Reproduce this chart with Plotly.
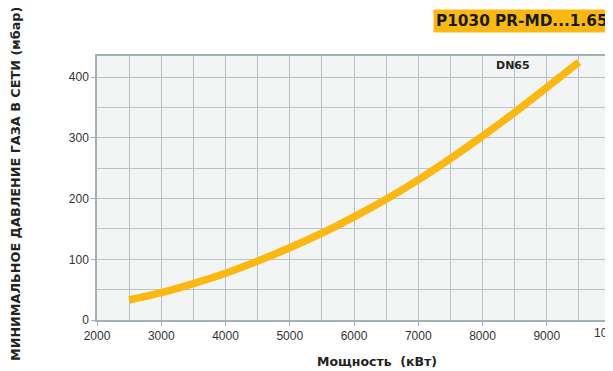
import plotly.graph_objects as go

power_kw = [2500, 3000, 3500, 4000, 4500, 5000, 5500, 6000, 6500, 7000, 7500, 8000, 8500, 9000, 9500]
pressure_mbar = [33, 45, 60, 77, 97, 119, 143, 170, 199, 231, 266, 303, 342, 383, 425]

x_ticks = [2000, 3000, 4000, 5000, 6000, 7000, 8000, 9000, 10000]
y_ticks = [0, 100, 200, 300, 400]

ORANGE = "#fbb812"
GRID = "#b7c3cb"
BOLD = "DejaVu Sans, Liberation Sans, Arial, sans-serif"

fig = go.Figure()
fig.add_trace(go.Scatter(
    x=power_kw, y=pressure_mbar, mode="lines",
    line=dict(color=ORANGE, width=7.5, shape="spline", smoothing=0.8),
    hoverinfo="skip", showlegend=False,
))

fig.update_layout(
    width=605, height=363,
    margin=dict(l=89, r=2, t=48, b=51, autoexpand=False),
    paper_bgcolor="white",
    plot_bgcolor="#f3f5f4",
    font=dict(family="Liberation Sans, Arial, sans-serif", color="#333333", size=12),
    xaxis=dict(
        range=[2000, 10000], tickvals=x_ticks[:-1], ticktext=[str(v) for v in x_ticks[:-1]],
        showgrid=True, gridcolor=GRID, gridwidth=1.2,
        minor=dict(dtick=500, tick0=2000, showgrid=True, gridcolor=GRID, gridwidth=1.2),
        showline=True, linecolor="#a3b0b8", linewidth=1.5, mirror=True,
        ticks="outside", ticklen=4, tickcolor="#a3b0b8",
        zeroline=False, automargin=False,
        tickfont=dict(size=12, color="#333333"),
    ),
    yaxis=dict(
        range=[0, 435], tickvals=y_ticks,
        showgrid=True, gridcolor=GRID, gridwidth=1.2,
        minor=dict(dtick=50, tick0=0, showgrid=True, gridcolor=GRID, gridwidth=1.2),
        showline=True, linecolor="#a3b0b8", linewidth=1.5, mirror=True,
        ticks="outside", ticklen=4, tickcolor="#a3b0b8",
        zeroline=False, automargin=False,
        tickfont=dict(size=12, color="#333333"),
    ),
    annotations=[
        dict(text=str(x_ticks[-1]), x=x_ticks[-1], xref="x", y=0, yref="paper",
             yanchor="top", yshift=-4, showarrow=False,
             font=dict(size=12, color="#333333", family="Liberation Sans, Arial, sans-serif")),
        dict(text="<b>Мощность  (кВт)</b>", xref="paper", yref="paper",
             x=0.545, y=0, xanchor="center", yanchor="middle", yshift=-41, showarrow=False,
             font=dict(size=12.5, color="#222222", family=BOLD)),
        dict(text="<b>P1030 PR-MD...1.65</b>", xref="paper", yref="paper",
             x=1.0, y=1.0, xanchor="right", yanchor="bottom",
             yshift=23, showarrow=False, bgcolor=ORANGE, borderpad=2,
             font=dict(size=15.3, color="#1a1a1a", family=BOLD)),
        dict(text="<b>DN65</b>", x=8475, y=420, xref="x", yref="y", showarrow=False,
             font=dict(size=11, color="#222222", family=BOLD)),
        dict(text="<b>МИНИМАЛЬНОЕ ДАВЛЕНИЕ ГАЗА В СЕТИ (мбар)</b>", xref="paper", yref="paper",
             x=-0.1595, y=0.515, xanchor="center", yanchor="middle",
             textangle=-90, showarrow=False,
             font=dict(size=12.8, color="#222222", family=BOLD)),
    ],
)

fig.write_html("out.html")
